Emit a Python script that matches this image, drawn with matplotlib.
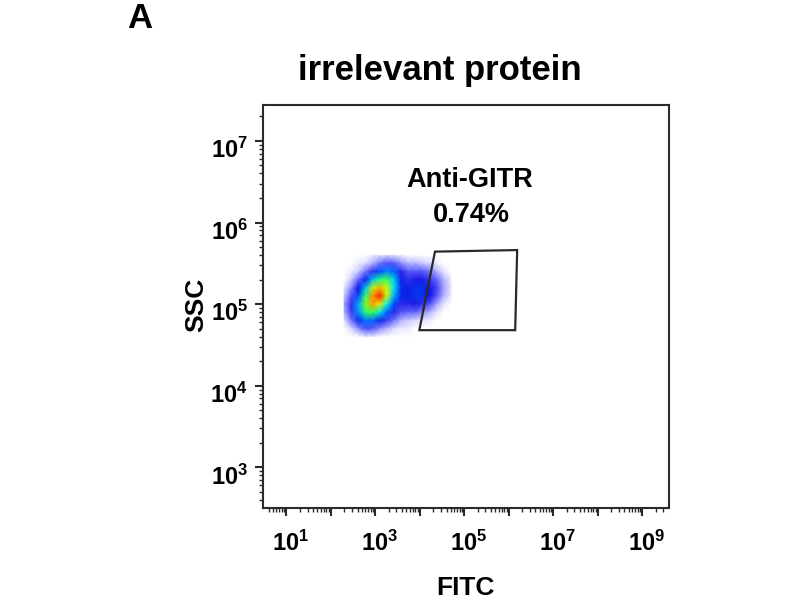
import matplotlib
matplotlib.use("Agg")
import matplotlib.pyplot as plt
import numpy as np
from matplotlib import ticker
from matplotlib.patches import Polygon
from matplotlib.colors import LinearSegmentedColormap
from matplotlib.transforms import ScaledTranslation

plt.rcParams['font.family'] = ['Liberation Sans', 'DejaVu Sans']
plt.rcParams['font.weight'] = 'bold'
plt.rcParams['mathtext.fontset'] = 'custom'
plt.rcParams['mathtext.bf'] = 'Liberation Sans:bold'
plt.rcParams['mathtext.rm'] = 'Liberation Sans:bold'

# density of events (log10 FITC columns, log10 SSC rows, top row first)
fitc_log = [2.30, 2.46, 2.62, 2.78, 2.94, 3.10, 3.26, 3.42,
            3.58, 3.74, 3.90, 4.06, 4.22, 4.38, 4.54, 4.70]
ssc_log = [5.6, 5.5, 5.4, 5.3, 5.2, 5.1, 5.0, 4.9, 4.8, 4.7, 4.6]
density = [
    [0, 0, 0, 0, .02, .03, .04, .03, .02, 0, 0, 0, 0, 0, 0, 0],
    [0, 0, .02, .04, .06, .09, .12, .11, .08, .06, .06, .05, .04, .02, 0, 0],
    [0, .02, .05, .09, .15, .26, .32, .28, .16, .11, .11, .11, .09, .06, .03, 0],
    [0, .05, .10, .20, .38, .52, .55, .40, .20, .15, .17, .17, .14, .10, .06, .02],
    [.03, .08, .18, .38, .64, .76, .66, .42, .22, .20, .22, .22, .19, .13, .07, .03],
    [.05, .12, .26, .52, .80, .92, .66, .36, .21, .20, .23, .22, .18, .11, .06, .02],
    [.07, .15, .35, .60, .78, .70, .46, .25, .16, .16, .17, .15, .12, .07, .03, 0],
    [.06, .14, .33, .52, .56, .44, .28, .16, .11, .10, .10, .08, .06, .03, 0, 0],
    [.03, .09, .21, .30, .29, .21, .14, .09, .06, .05, .04, .03, .02, 0, 0, 0],
    [0, .04, .08, .12, .11, .08, .06, .04, .02, .02, 0, 0, 0, 0, 0, 0],
    [0, 0, 0, .02, .02, 0, 0, 0, 0, 0, 0, 0, 0, 0, 0, 0],
]

# gate (FITC, SSC)
gate_fitc = [2.2e4, 1.55e6, 1.4e6, 9.8e3]
gate_ssc = [4.4e5, 4.6e5, 4.8e4, 4.8e4]
gate_name = 'Anti-GITR'
gate_pct = '0.74%'

flow_cmap = LinearSegmentedColormap.from_list('flow', [
    (0.00, '#ffffff'), (0.04, '#d8d8ff'), (0.10, '#6060ff'), (0.18, '#1010e0'),
    (0.26, '#0050ff'), (0.36, '#00b0ff'), (0.46, '#00ffe0'), (0.56, '#40ff40'),
    (0.68, '#e8ff00'), (0.80, '#ff9000'), (0.92, '#ff2000'), (1.00, '#c00000')])

fig = plt.figure(figsize=(8, 6), dpi=100)
ax = fig.add_axes([0.329, 0.153, 0.507, 0.672])

X, Y = np.meshgrid(10 ** np.array(fitc_log), 10 ** np.array(ssc_log))
ax.pcolormesh(X, Y, np.array(density), cmap=flow_cmap, vmin=0.0, vmax=1.0,
              shading='gouraud', zorder=1)

ax.add_patch(Polygon(list(zip(gate_fitc, gate_ssc)), closed=True, fill=False,
                     edgecolor='#2a2a2a', linewidth=1.6, zorder=3))

ax.set_xscale('log')
ax.set_yscale('log')
ax.set_xlim(10 ** 0.48, 10 ** 9.6)
ax.set_ylim(10 ** 2.5, 10 ** 7.44)

ax.xaxis.set_major_locator(ticker.FixedLocator([10.0 ** k for k in range(0, 10)]))
ax.yaxis.set_major_locator(ticker.FixedLocator([10.0 ** k for k in range(2, 8)]))
ax.xaxis.set_minor_locator(ticker.LogLocator(base=10, subs=np.arange(2, 10), numticks=20))
ax.yaxis.set_minor_locator(ticker.LogLocator(base=10, subs=np.arange(2, 10), numticks=20))
ax.xaxis.set_minor_formatter(ticker.NullFormatter())
ax.yaxis.set_minor_formatter(ticker.NullFormatter())


def xfmt(v, pos):
    k = int(round(np.log10(v)))
    return r'$\mathbf{10^{%d}}$' % k if k % 2 == 1 else ''


def yfmt(v, pos):
    k = int(round(np.log10(v)))
    return r'$\mathbf{10^{%d}}$' % k if k >= 3 else ''


ax.xaxis.set_major_formatter(ticker.FuncFormatter(xfmt))
ax.yaxis.set_major_formatter(ticker.FuncFormatter(yfmt))
ax.tick_params(which='major', direction='out', length=6, width=1.5,
               color='#2a2a2a', labelsize=17)
ax.tick_params(axis='x', which='major', pad=10)
ax.tick_params(axis='y', which='major', pad=5)
ax.tick_params(which='minor', direction='out', length=3, width=1.0, color='#2a2a2a')

# the "10" sits below the tick, the exponent level with it
for lab in ax.get_yticklabels():
    lab.set_transform(lab.get_transform() + ScaledTranslation(0, -5 / 72, fig.dpi_scale_trans))
for lab in ax.get_xticklabels():
    lab.set_transform(lab.get_transform() + ScaledTranslation(3 / 72, 0, fig.dpi_scale_trans))

for s in ax.spines.values():
    s.set_linewidth(1.5)
    s.set_color('#2a2a2a')

fig.text(140 / 800, 1 - 18 / 600, 'A', fontsize=25, fontweight='bold',
         ha='center', va='center')
fig.text(440 / 800, 1 - 80 / 600, 'irrelevant protein', fontsize=25,
         fontweight='bold', ha='center', va='baseline')
fig.text(470 / 800, 1 - 187 / 600, gate_name, fontsize=19.5, fontweight='bold',
         ha='center', va='baseline')
fig.text(471 / 800, 1 - 222 / 600, gate_pct, fontsize=19.5, fontweight='bold',
         ha='center', va='baseline')
fig.text(465 / 800, 1 - 595 / 600, 'FITC', fontsize=19, fontweight='bold',
         ha='center', va='baseline')
fig.text(196 / 800, 1 - 305 / 600, 'SSC', fontsize=19, fontweight='bold',
         ha='center', va='center', rotation=90)

fig.savefig('out.png', dpi=100)
